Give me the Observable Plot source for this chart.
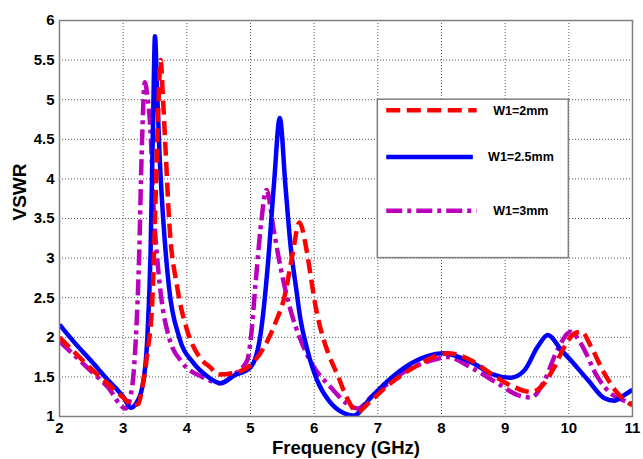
<!DOCTYPE html>
<html><head><meta charset="utf-8">
<script src="https://cdn.jsdelivr.net/npm/d3@7"></script>
<script src="https://cdn.jsdelivr.net/npm/@observablehq/plot@0.6"></script>
<style>
html,body{margin:0;padding:0;background:#fff;}
#wrap{position:relative;width:643px;height:459px;}
#wrap svg{display:block;}
#legend{position:absolute;left:0;top:0;pointer-events:none;}
</style></head><body><div id="wrap"></div>
<script>
const xTicks = [2,3,4,5,6,7,8,9,10,11];
const yTicks = [1,1.5,2,2.5,3,3.5,4,4.5,5,5.5,6];
const xLabel = "Frequency (GHz)";
const yLabel = "VSWR";
const seriesNames = ["W1=2mm","W1=2.5mm","W1=3mm"];
const seriesColors = ["#ff0000","#0000ff","#bb00bb"];
const seriesDash = ["14,6.5", "none", "16,5,4,5"];

// W1 = 2mm (red dashed)
const freqA = [2.0,2.25,2.5,2.75,3.0,3.15,3.24,3.3,3.38,3.46,3.5,3.54,3.59,3.62,3.67,3.72,3.85,4.0,4.2,4.37,4.5,4.74,5.0,5.27,5.4,5.53,5.65,5.77,5.87,5.95,6.02,6.12,6.23,6.37,6.5,6.68,6.89,7.2,7.57,8.1,8.46,8.78,9.09,9.41,9.56,9.77,9.93,10.09,10.2,10.35,10.56,10.77,11.0];
const vswrA = [2.0,1.8,1.6,1.42,1.24,1.14,1.16,1.37,1.8,2.5,3.5,4.6,5.5,5.1,4.3,3.5,2.63,2.1,1.75,1.62,1.53,1.55,1.65,1.96,2.2,2.5,3.0,3.45,3.15,2.75,2.4,2.05,1.78,1.52,1.26,1.06,1.2,1.42,1.62,1.8,1.71,1.54,1.39,1.31,1.37,1.62,1.88,2.05,2.07,1.88,1.54,1.29,1.14];

// W1 = 2.5mm (blue solid)
const freqB = [2.0,2.25,2.5,2.75,3.0,3.12,3.19,3.3,3.38,3.43,3.47,3.5,3.53,3.57,3.63,3.72,3.88,4.1,4.3,4.53,4.75,5.0,5.16,5.27,5.37,5.46,5.55,5.63,5.72,5.78,5.89,6.05,6.23,6.47,6.62,6.89,7.2,7.52,8.02,8.46,8.78,9.09,9.3,9.51,9.67,9.88,10.03,10.3,10.56,10.71,10.87,11.0];
const vswrB = [2.16,1.92,1.7,1.47,1.25,1.11,1.15,1.37,2.0,3.06,4.75,5.8,5.2,4.33,3.48,2.63,2.0,1.68,1.52,1.42,1.52,1.62,2.05,2.89,3.95,4.77,3.9,3.15,2.6,2.25,1.85,1.45,1.2,1.04,1.01,1.24,1.48,1.67,1.8,1.69,1.54,1.49,1.58,1.88,2.03,1.84,1.71,1.46,1.23,1.2,1.27,1.34];

// W1 = 3mm (magenta dash-dot)
const freqC = [2.0,2.25,2.5,2.75,3.04,3.14,3.2,3.25,3.29,3.34,3.38,3.43,3.48,3.54,3.61,3.72,3.93,4.24,4.53,4.74,4.95,5.0,5.08,5.16,5.25,5.37,5.47,5.63,5.79,6.0,6.26,6.52,6.68,6.89,7.41,7.94,8.1,8.46,8.88,9.2,9.41,9.62,9.82,10.03,10.19,10.45,10.66,10.87,11.0];
const vswrC = [1.95,1.76,1.57,1.38,1.1,1.37,2.0,3.0,4.3,5.22,5.05,4.6,3.6,2.95,2.43,2.0,1.68,1.5,1.42,1.53,1.71,1.95,2.68,3.39,3.86,3.33,2.89,2.34,1.96,1.62,1.37,1.16,1.1,1.24,1.56,1.73,1.75,1.62,1.42,1.27,1.24,1.46,1.84,2.07,1.92,1.5,1.29,1.2,1.16];

const series = [
  {name: seriesNames[0], color: seriesColors[0], dash: seriesDash[0], rows: freqA.map((f,i)=>({f, v: vswrA[i]}))},
  {name: seriesNames[1], color: seriesColors[1], dash: seriesDash[1], rows: freqB.map((f,i)=>({f, v: vswrB[i]}))},
  {name: seriesNames[2], color: seriesColors[2], dash: seriesDash[2], rows: freqC.map((f,i)=>({f, v: vswrC[i]}))}
];
const drawOrder = [2,1,0];

const font = "'Liberation Sans', Arial, Helvetica, sans-serif";
const chart = Plot.plot({
  width: 643, height: 459,
  marginLeft: 59, marginRight: 11, marginTop: 20, marginBottom: 43,
  style: {fontFamily: font, background: "#fff", color: "#000"},
  x: {domain: [2, 11]},
  y: {domain: [1, 6]},
  marks: [
    Plot.gridX(xTicks, {stroke: "#555", strokeOpacity: 1, strokeWidth: 1, strokeDasharray: "1,2"}),
    Plot.gridY(yTicks, {stroke: "#555", strokeOpacity: 1, strokeWidth: 1, strokeDasharray: "1,2"}),
    ...drawOrder.map(k => Plot.line(series[k].rows, {
      x: "f", y: "v", stroke: series[k].color, strokeWidth: 4.5,
      strokeDasharray: series[k].dash, strokeLinecap: "butt", strokeLinejoin: "round",
      curve: "monotone-x", clip: true
    })),
    Plot.frame({stroke: "#808080", strokeWidth: 1.5}),
    Plot.axisX(xTicks, {anchor: "bottom", tickSize: 0, tickPadding: 6, fontSize: 15, fontWeight: "bold", label: null, tickFormat: d => String(d)}),
    Plot.axisY(yTicks, {anchor: "left", tickSize: 0, tickPadding: 5, fontSize: 15, fontWeight: "bold", label: null, tickFormat: d => String(d)}),
    Plot.text([xLabel], {frameAnchor: "bottom", text: d => d, dy: 32, lineAnchor: "middle", fontSize: 18.5, fontWeight: "bold", fill: "#000"}),
    Plot.text([yLabel], {frameAnchor: "left", text: d => d, dx: -40, dy: 2, rotate: -90, lineAnchor: "middle", fontSize: 19, fontWeight: "bold", fill: "#000"})
  ]
});
const wrap = document.getElementById("wrap");
wrap.appendChild(chart);

// Legend box placed in data space (f 7..10, VSWR 3..5)
const sx = chart.scale("x"), sy = chart.scale("y");
const bx0 = sx.apply(7), bx1 = sx.apply(10), by0 = sy.apply(5), by1 = sy.apply(3);
const legendY = [4.86, 4.27, 3.59];
const lineEnd = [8.56, 8.5, 8.56];
const textX = [8.82, 8.74, 8.82];
const ns = "http://www.w3.org/2000/svg";
const lg = document.createElementNS(ns, "svg");
lg.setAttribute("id", "legend");
lg.setAttribute("width", 643); lg.setAttribute("height", 459);
const rect = document.createElementNS(ns, "rect");
rect.setAttribute("x", bx0); rect.setAttribute("y", by0);
rect.setAttribute("width", bx1 - bx0); rect.setAttribute("height", by1 - by0);
rect.setAttribute("fill", "#fff"); rect.setAttribute("stroke", "#808080"); rect.setAttribute("stroke-width", 1.5);
lg.appendChild(rect);
series.forEach((s, i) => {
  const y = sy.apply(legendY[i]);
  const ln = document.createElementNS(ns, "line");
  ln.setAttribute("x1", sx.apply(7.14)); ln.setAttribute("x2", sx.apply(lineEnd[i]));
  ln.setAttribute("y1", y); ln.setAttribute("y2", y);
  ln.setAttribute("stroke", s.color); ln.setAttribute("stroke-width", 4.5);
  if (s.dash !== "none") ln.setAttribute("stroke-dasharray", s.dash);
  lg.appendChild(ln);
  const t = document.createElementNS(ns, "text");
  t.setAttribute("x", sx.apply(textX[i])); t.setAttribute("y", y);
  t.setAttribute("dy", "0.35em");
  t.setAttribute("font-family", font); t.setAttribute("font-size", 12.5); t.setAttribute("font-weight", "bold");
  t.textContent = s.name;
  lg.appendChild(t);
});
wrap.appendChild(lg);
</script></body></html>
